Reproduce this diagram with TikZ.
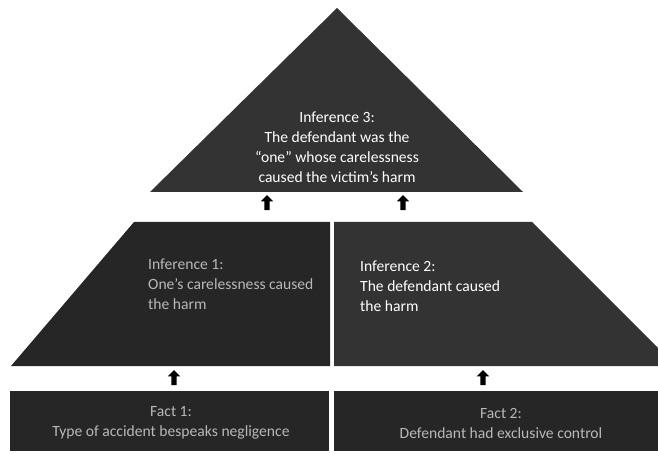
\documentclass[tikz,border=0pt]{standalone}
\usepackage{fontspec}
\setmainfont{Carlito}
\usetikzlibrary{shapes.arrows}

\begin{document}
\begin{tikzpicture}[x=1pt,y=-1pt,
            speckled/.style={fill=black!80,draw=none},
            striped/.style={fill=black!85,draw=none},
            label/.style={text=white,font=\fontsize{15.6}{20}\selectfont,
                inner sep=0pt},
            dim/.style={text=white!72!black},
            uparrow/.style={single arrow,fill=black,draw=none,rotate=90,
                minimum height=15pt,inner sep=2.5pt,
                single arrow head extend=3.5pt}]
            \useasboundingbox (0,0) rectangle (658,454);

            % pyramid blocks
            \fill[speckled] (337,8) -- (523,192) -- (150,192) -- cycle;
            \fill[striped] (134,222) -- (330,222) -- (330,366) -- (11,366) -- cycle;
            \fill[speckled] (334,222) -- (532,222) -- (658,348) -- (658,366)
                -- (334,366) -- cycle;
            \fill[striped] (10,391) rectangle (329,451);
            \fill[striped] (334,391) rectangle (658,451);

            \node[label,align=center] (inf3) at (337,147)
                {Inference 3:\\The defendant was the\\“one” whose carelessness\\caused the victim’s harm};
            \node[label,dim,align=left,anchor=west] (inf1) at (148,284)
                {Inference 1:\\One’s carelessness caused\\the harm};
            \node[label,align=left,anchor=west] (inf2) at (360,286)
                {Inference 2:\\The defendant caused\\the harm};
            \node[label,dim,align=center] (fact1) at (171,423)
                {Fact 1:\\Type of accident bespeaks negligence};
            \node[label,dim,align=center] (fact2) at (501,423)
                {Fact 2:\\Defendant had exclusive control};

            % block arrows
            \node[uparrow] (up1) at (174,379) {};
            \node[uparrow] (up2) at (483,379) {};
            \node[uparrow] (up3) at (267,204) {};
            \node[uparrow] (up4) at (403,204) {};

        \end{tikzpicture}
\end{document}
